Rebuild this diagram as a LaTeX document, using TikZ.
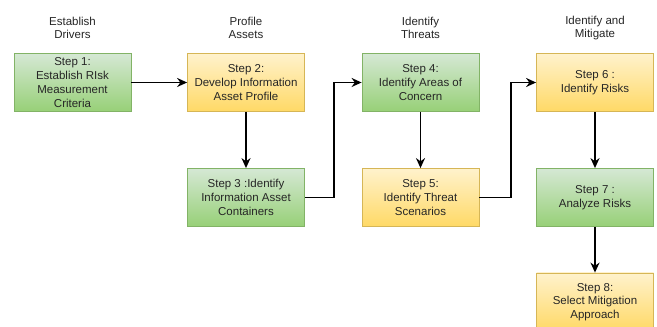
\documentclass[tikz,border=0pt]{standalone}
\usepackage{fontspec}
\setmainfont{Liberation Sans}
\usetikzlibrary{arrows.meta}
\definecolor{gtop}{HTML}{D5E8D4}
\definecolor{gbot}{HTML}{97D077}
\definecolor{gline}{HTML}{82B366}
\definecolor{ytop}{HTML}{FFF2CC}
\definecolor{ybot}{HTML}{FFD966}
\definecolor{yline}{HTML}{D6B656}
\tikzset{
  box/.style={rectangle, minimum width=117pt, minimum height=58pt, inner sep=2pt,
    align=center, font=\fontsize{11.5}{13.8}\selectfont, text=black!85, line width=0.8pt},
  gbox/.style={box, draw=gline, top color=gtop, bottom color=gbot},
  ybox/.style={box, draw=yline, top color=ytop, bottom color=ybot},
  head/.style={align=center, font=\fontsize{11.5}{13.2}\selectfont, text=black!85},
  arr/.style={draw=black, line width=1.9pt, -{Stealth[length=10pt,width=9pt]}}
}
\begin{document}
\begin{tikzpicture}[x=1pt,y=1pt]
\useasboundingbox (0,0) rectangle (657,327);
\clip (0,0) rectangle (657,327);
\fill[white] (0,0) rectangle (657,327);
% headers
\node[head] (h1) at (72.5,299) {Establish\\Drivers};
\node[head] (h2) at (246,299) {Profile\\Assets};
\node[head] (h3) at (420.5,299) {Identify\\Threats};
\node[head] (h4) at (595,299) {Identify and\\Mitigate};
% boxes
\node[gbox] (s1) at (72.5,244.5) {Step 1:\\Establish RIsk\\Measurement\\Criteria};
\node[ybox] (s2) at (246,244.5) {Step 2:\\Develop Information\\Asset Profile};
\node[gbox] (s3) at (246,129.5) {Step 3 :Identify\\Information Asset\\Containers};
\node[gbox] (s4) at (420.5,244.5) {Step 4:\\Identify Areas of\\Concern};
\node[ybox] (s5) at (420.5,129.5) {Step 5:\\Identify Threat\\Scenarios};
\node[ybox] (s6) at (595,244.5) {Step 6 :\\Identify Risks};
\node[gbox] (s7) at (595,129.5) {Step 7 :\\Analyze Risks};
\node[ybox] (s8) at (595,25) {Step 8:\\Select Mitigation\\Approach};
% connectors
\draw[arr] (s1) -- (s2);
\draw[arr] (s2) -- (s3);
\draw[arr] (s3.east) -- ([xshift=29pt]s3.east) |- (s4.west);
\draw[arr] (s4) -- (s5);
\draw[arr] (s5.east) -- ([xshift=32pt]s5.east) |- (s6.west);
\draw[arr] (s6) -- (s7);
\draw[arr] (s7) -- (s8);
\end{tikzpicture}
\end{document}
